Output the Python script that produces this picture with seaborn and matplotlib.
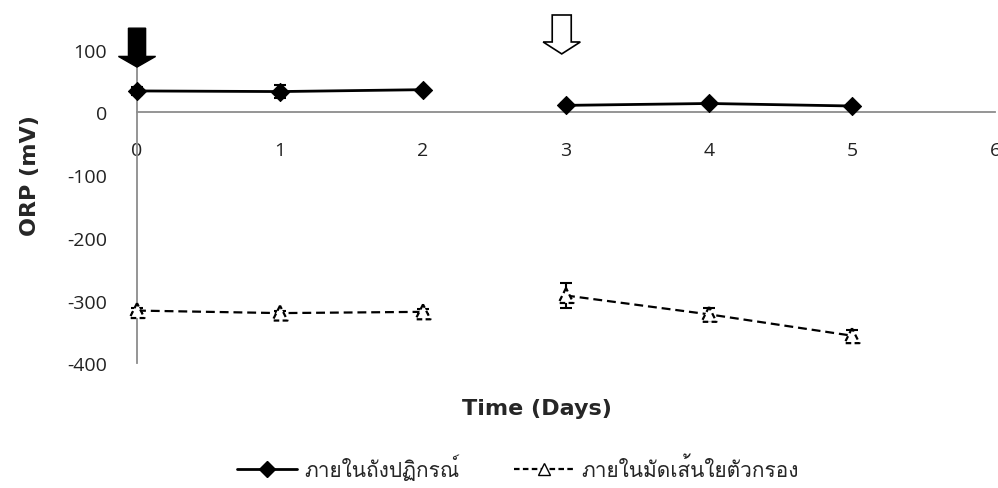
import matplotlib
matplotlib.use("Agg")
import matplotlib.pyplot as plt
from matplotlib import font_manager
from matplotlib.patches import FancyArrow
from matplotlib.lines import Line2D
import numpy as np
import pandas as pd
import seaborn as sns

# ORP readings (mV) over the run, two sampling points
days = [0, 1, 2, 3, 4, 5]
phase = [1, 1, 1, 2, 2, 2]
reactor_orp = [34, 33, 36, 11, 14, 10]
reactor_err = [7, 10, 3, 3, 3, 3]
fiber_orp = [-316, -320, -318, -292, -322, -356]
fiber_err = [4, 4, 4, 20, 10, 9]
series_names = ["ภายในถังปฏิกรณ์", "ภายในมัดเส้นใยตัวกรอง"]
x_ticks = [0, 1, 2, 3, 4, 5, 6]
y_ticks = [-400, -300, -200, -100, 0, 100]


def find_thai_family(default="DejaVu Sans"):
    try:
        from fontTools.ttLib import TTFont
    except Exception:
        return default
    for f in font_manager.fontManager.ttflist:
        try:
            tt = TTFont(f.fname, fontNumber=0, lazy=True)
            cmap = tt.getBestCmap() or {}
            if 0x0E20 in cmap and 0x0E4C in cmap:
                return f.name
        except Exception:
            continue
    return default


sns.set_theme(style="white")
thai_family = find_thai_family()
plt.rcParams["font.family"] = [thai_family, "DejaVu Sans"]

df = pd.DataFrame({
    "day": days * 2,
    "orp": reactor_orp + fiber_orp,
    "err": reactor_err + fiber_err,
    "series": [series_names[0]] * len(days) + [series_names[1]] * len(days),
    "phase": phase * 2,
})
reactor = df[df["series"] == series_names[0]]
fiber = df[df["series"] == series_names[1]]

fig = plt.figure(figsize=(9.98, 4.89), dpi=100)
ax = fig.add_axes([0.1373, 0.255, 0.8597, 0.6417])

# spines first: moving the bottom spine resets the x ticks
axis_gray = "#8c8c8c"
for side in ("top", "right"):
    ax.spines[side].set_visible(False)
ax.spines["bottom"].set_position(("data", 0))
for side in ("bottom", "left"):
    ax.spines[side].set_color(axis_gray)
    ax.spines[side].set_linewidth(1.3)

# connecting lines, broken between the two phases
sns.lineplot(data=reactor, x="day", y="orp", units="phase", estimator=None,
             color="black", lw=2.0, ax=ax, legend=False, zorder=3, clip_on=False)
sns.lineplot(data=fiber, x="day", y="orp", units="phase", estimator=None,
             color="black", lw=1.6, ax=ax, legend=False, zorder=3, clip_on=False)
for line in ax.lines[len(ax.lines) - 2:]:
    line.set_dashes((4, 2.2))

# error bars
for part, data in ((None, reactor), (None, fiber)):
    eb = ax.errorbar(data["day"], data["orp"], yerr=data["err"], fmt="none",
                     ecolor="black", elinewidth=1.5, capsize=4, capthick=1.5,
                     zorder=4)
    for artist in eb.lines[1] + eb.lines[2]:
        artist.set_clip_on(False)

# markers
sns.scatterplot(data=reactor, x="day", y="orp", marker="D", s=85,
                color="black", edgecolor="black", ax=ax, legend=False,
                zorder=5, clip_on=False)
sns.scatterplot(data=fiber, x="day", y="orp", marker="^", s=115,
                facecolor="white", edgecolor="black", linewidth=1.6,
                linestyle=(0, (2.5, 1.5)), ax=ax, legend=False,
                zorder=5, clip_on=False)

ax.set_xlim(0, 6)
ax.set_ylim(-400, 100)
ax.set_xticks(x_ticks)
ax.set_yticks(y_ticks)
tick_font = {"fontsize": 14, "color": "#222222", "family": ["Open Sans", "DejaVu Sans"]}
ax.set_xticklabels([str(t) for t in x_ticks], **tick_font)
ax.set_yticklabels([str(t) for t in y_ticks], **tick_font)
ax.tick_params(axis="x", direction="out", length=6.5, width=1.3, color=axis_gray, pad=14.5)
ax.tick_params(axis="y", direction="out", length=6.5, width=1.3, color=axis_gray, pad=15)
ax.grid(False)

ax.set_xlabel("Time (Days)", fontsize=16, fontweight="bold", family="DejaVu Sans")
ax.set_ylabel("ORP (mV)", fontsize=16, fontweight="bold", family="DejaVu Sans")
ax.xaxis.set_label_coords(0.466, -0.11)
ax.yaxis.set_label_coords(-0.113, 0.60)

# dosing arrows above the plot
ax.add_patch(FancyArrow(0, 134, 0, -62, width=0.12, head_width=0.26,
                        head_length=17, length_includes_head=True,
                        facecolor="black", edgecolor="black", clip_on=False, zorder=6))
ax.add_patch(FancyArrow(2.97, 155, 0, -62, width=0.133, head_width=0.26,
                        head_length=19, length_includes_head=True,
                        facecolor="white", edgecolor="black", lw=1.2,
                        clip_on=False, zorder=6))

handles = [
    Line2D([], [], color="black", lw=2.0, marker="D", markersize=8,
           markerfacecolor="black", markeredgecolor="black"),
    Line2D([], [], color="black", lw=1.6, dashes=(2.5, 1.5), marker="^",
           markersize=9, markerfacecolor="white", markeredgecolor="black"),
]
fig.legend(handles, series_names, loc="center", bbox_to_anchor=(0.519, 0.043),
           ncol=2, frameon=False, fontsize=15, handlelength=2.9,
           columnspacing=2.6, handletextpad=0.35)

fig.savefig("out.png", dpi=100)
